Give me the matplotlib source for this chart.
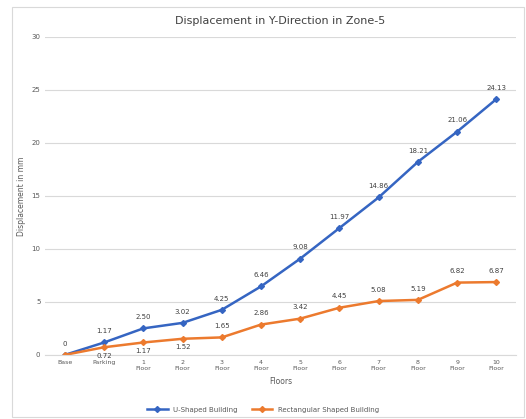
import matplotlib.pyplot as plt
import numpy as np

# Data
floors = ['Base', 'Parking', '1\nFloor', '2\nFloor', '3\nFloor', '4\nFloor', '5\nFloor',
          '6\nFloor', '7\nFloor', '8\nFloor', '9\nFloor', '10\nFloor']
u_shaped = [0, 1.17, 2.50, 3.02, 4.25, 6.46, 9.08, 11.97, 14.86, 18.21, 21.06, 24.13]
rect_shaped = [0, 0.72, 1.17, 1.52, 1.65, 2.86, 3.42, 4.45, 5.08, 5.19, 6.82, 6.87]

blue = '#3565C2'
orange = '#EC7A2E'

fig = plt.figure(figsize=(5.26, 4.19), dpi=100)
ax = fig.add_axes([0.086, 0.153, 0.895, 0.759])

x = np.arange(len(floors))
ax.plot(x, u_shaped, color=blue, lw=1.8, marker='D', ms=3, label='U-Shaped Building')
ax.plot(x, rect_shaped, color=orange, lw=1.8, marker='D', ms=3, label='Rectangular Shaped Building')

# data labels
for i, v in enumerate(u_shaped):
    txt = '0' if v == 0 else f'{v:.2f}'
    ax.annotate(txt, (i, v), xytext=(0, 6), textcoords='offset points',
                ha='center', va='bottom', fontsize=5, color='#404040')
below = {1, 2, 3}
for i, v in enumerate(rect_shaped):
    if i == 0:
        continue
    if i in below:
        ax.annotate(f'{v:.2f}', (i, v), xytext=(0, -4), textcoords='offset points',
                    ha='center', va='top', fontsize=5, color='#404040')
    else:
        ax.annotate(f'{v:.2f}', (i, v), xytext=(0, 6), textcoords='offset points',
                    ha='center', va='bottom', fontsize=5, color='#404040')

ax.set_xlim(-0.5, len(floors) - 0.5)
ax.set_ylim(0, 30)
ax.set_yticks(range(0, 31, 5))
ax.set_xticks(x)
ax.set_xticklabels(floors, fontsize=4.5, color='#595959')
ax.tick_params(axis='y', labelsize=5, colors='#595959', length=0)
ax.tick_params(axis='x', length=0, pad=4)
ax.grid(axis='y', color='#D9D9D9', lw=0.8)
ax.set_axisbelow(True)
for s in ['top', 'right', 'left']:
    ax.spines[s].set_visible(False)
ax.spines['bottom'].set_color('#D9D9D9')

ax.set_title('Displacement in Y-Direction in Zone-5', fontsize=8, color='#404040', pad=9)
ax.set_xlabel('Floors', fontsize=5.5, color='#595959')
ax.set_ylabel('Displacement in mm', fontsize=5.5, color='#595959')

fig.legend(loc='lower center', bbox_to_anchor=(0.5, 0.0), ncol=2, frameon=False,
           fontsize=5, labelcolor='#595959', handlelength=3)

# chart border
fig.patches.append(plt.Rectangle((0.022, 0.005), 0.975, 0.978, transform=fig.transFigure,
                                 fill=False, edgecolor='#D9D9D9', lw=0.8))

fig.savefig('out.png', dpi=100)
